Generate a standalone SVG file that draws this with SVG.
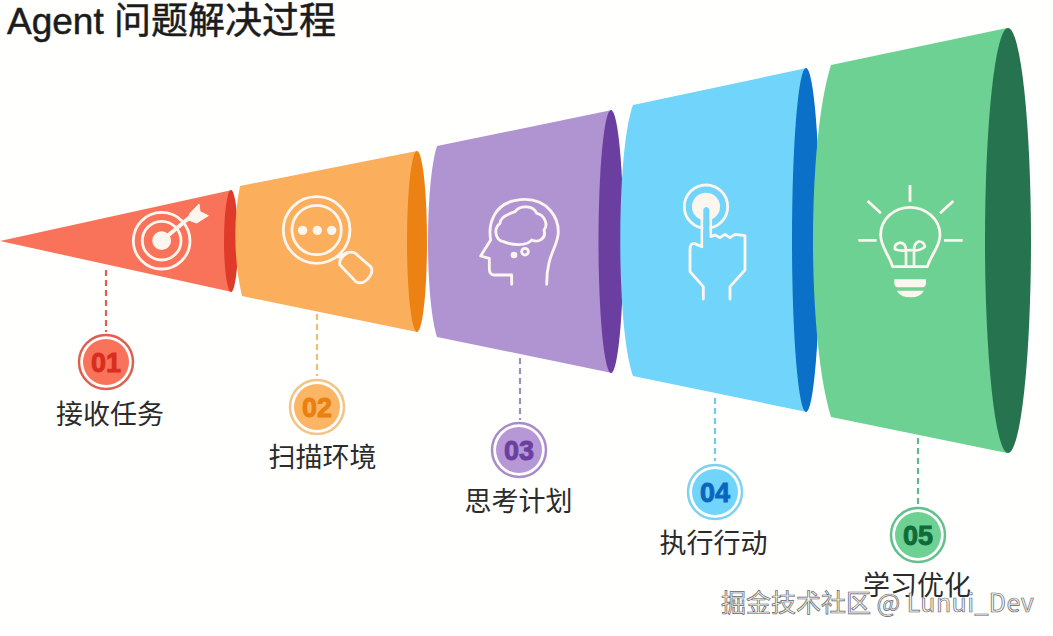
<svg xmlns="http://www.w3.org/2000/svg" width="1053" height="636" viewBox="0 0 1053 636">
<defs><style>
.t{font-family:"Liberation Sans","Noto Sans CJK SC",sans-serif;fill:#2b2b2b}
.h{fill:#1c1c1c;font-size:37px;stroke:#1c1c1c;stroke-width:.5}
.l{font-size:27px;text-anchor:middle}
.n{font-family:"Liberation Sans",Arial,sans-serif;font-weight:700;font-size:27px;text-anchor:middle;stroke-width:.9}
.i{fill:none;stroke:#fdf6ef;stroke-linecap:round;stroke-linejoin:round}
.z{stroke-width:8.500}
.d{fill:none;stroke-width:2.2;stroke-dasharray:6 4}
.r{fill:#fff;stroke-width:2.500}
</style></defs>
<rect id="background" width="1053" height="636" fill="#fffffe"/>
<text id="title" class="t h" x="7" y="34">Agent 问题解决过程</text>
<g id="connectors">
<line class="d" x1="106" y1="270" x2="106" y2="332" stroke="#e0604f"/>
<line class="d" x1="317" y1="314" x2="317" y2="376" stroke="#efbd75"/>
<line class="d" x1="520" y1="358" x2="520" y2="420" stroke="#9c90bd"/>
<line class="d" x1="715" y1="398" x2="715" y2="461" stroke="#74cbe8"/>
<line class="d" x1="918" y1="438" x2="918" y2="504" stroke="#5fb88a"/>
</g>
<g id="seg1">
<path d="M0,241 L232,190 V292 Z" fill="#f9735a"/>
<ellipse cx="231" cy="241" rx="7" ry="51" fill="#e03a2a"/>
<g transform="translate(125,195) scale(.3333)" class="i z">
<circle cx="110" cy="137" r="85"/><circle cx="110" cy="137" r="58"/>
<circle cx="110" cy="137" r="24" fill="#fdf6ef"/>
<path d="M110,137 L200,62" stroke-width="12"/>
<path d="M195,55 L222,27 L225,50 L250,62 L215,84 L190,75 Z" fill="#fdf6ef" stroke-width="3"/>
</g>
</g>
<g id="seg2">
<path d="M240,186 L417,151 V332 L242,296 C234,262 233,220 240,186 Z" fill="#fbae5c"/>
<ellipse cx="417" cy="241.5" rx="10" ry="90.5" fill="#ec8213"/>
<g transform="translate(0,170) scale(.3333)" class="i z">
<circle cx="950" cy="180" r="100"/><circle cx="950" cy="180" r="74"/>
<circle cx="908" cy="181" r="14" fill="#fdf6ef" stroke="none"/><circle cx="952" cy="181" r="14" fill="#fdf6ef" stroke="none"/><circle cx="995" cy="181" r="14" fill="#fdf6ef" stroke="none"/>
<path d="M1015,262 L1040,248"/>
<path d="M1020,285 Q1015,268 1040,250 Q1060,240 1075,258 L1112,290 Q1122,305 1105,325 Q1088,345 1068,335 Z"/>
</g>
</g>
<g id="seg3">
<path d="M437,146 L612,110 V373 L437,337 C425,300 425,183 437,146 Z" fill="#b094d2"/>
<ellipse cx="611" cy="241.5" rx="12.5" ry="131.5" fill="#6b3fa0"/>
<g transform="translate(470,190) scale(.3333)" class="i z">
<path d="M125,283 V255 H72 Q58,255 58,235 V205 L32,198 L62,150 C55,110 65,30 165,28 C235,28 265,85 265,125 C265,170 230,190 230,283"/>
<path d="M100,155 C75,150 70,115 90,100 C90,80 120,70 135,65 C150,45 190,45 200,70 C225,75 235,105 222,120 C230,145 205,160 185,150 C170,170 125,165 100,155 Z"/>
<circle cx="165" cy="185" r="10"/><circle cx="132" cy="195" r="10" fill="#fdf6ef" stroke="none"/>
</g>
</g>
<g id="seg4">
<path d="M633,105 L807,68 V412 L633,376 C616,330 616,150 633,105 Z" fill="#70d4fb"/>
<ellipse cx="806" cy="240" rx="14" ry="172" fill="#0a70c8"/>
<g transform="translate(670,175) scale(.3333)" class="i z">
<circle cx="108" cy="95" r="65"/>
<circle cx="108" cy="95" r="42" fill="#fdf6ef" stroke="none"/>
<path d="M100,372 V335 L60,290 V225 Q60,205 72,205 L96,215 V100 Q108,80 122,100 V185 L135,180 L150,188 L165,178 L180,188 L195,178 L225,182 V285 L180,335 V372" fill="none"/>
<path d="M100,215 V102 Q108,90 118,102 V195 L118,215 Z" fill="#70d4fb" stroke="none"/>
</g>
</g>
<g id="seg5">
<path d="M831,65 L1007,28 V453 L831,417 C807,340 807,140 831,65 Z" fill="#6dd193"/>
<ellipse cx="1008" cy="240.5" rx="23" ry="212.5" fill="#26734f"/>
<g transform="translate(800,20) scale(.3333)" class="i z">
<path d="M330,495 V545 M203,543 L243,580 M460,543 L420,580 M175,661 H230 M432,661 H488" stroke-linecap="butt"/>
<path d="M278,740 C265,700 242,680 242,645 C242,595 285,562 330,562 C375,562 420,595 420,645 C420,680 395,700 382,740 Z"/>
<path d="M318,740 V690 Q318,670 300,668 Q282,672 285,688 Q300,695 330,690 Q360,695 375,680 Q370,662 355,665 Q342,670 342,690 V740" fill="none" stroke-width="8"/>
<path d="M283,778 H378 V788 Q378,802 365,802 H296 Q283,802 283,788 Z" fill="#fdf6ef" stroke="none"/>
<path d="M290,812 H372 Q360,832 332,832 Q302,832 290,812 Z" fill="#fdf6ef" stroke="none"/>
</g>
</g>
<g id="badge1"><circle class="r" cx="106" cy="362" r="27" stroke="#e0604f"/><circle cx="106" cy="362" r="23" fill="#f9735a"/><text class="n" x="106" y="371.500" fill="#d92d1f" stroke="#d92d1f">01</text></g>
<g id="badge2"><circle class="r" cx="317" cy="407" r="27" stroke="#f3c486"/><circle cx="317" cy="407" r="23" fill="#fbb563"/><text class="n" x="317" y="416.500" fill="#ea7f12" stroke="#ea7f12">02</text></g>
<g id="badge3"><circle class="r" cx="519" cy="450" r="27" stroke="#a88cc8"/><circle cx="519" cy="450" r="23" fill="#b698d6"/><text class="n" x="519" y="459.500" fill="#6b3fa0" stroke="#6b3fa0">03</text></g>
<g id="badge4"><circle class="r" cx="715" cy="492" r="27" stroke="#7fd2ef"/><circle cx="715" cy="492" r="23" fill="#70d4fb"/><text class="n" x="715" y="501.500" fill="#0a66bd" stroke="#0a66bd">04</text></g>
<g id="badge5"><circle class="r" cx="918" cy="535" r="27" stroke="#63c08c"/><circle cx="918" cy="535" r="23" fill="#6dd193"/><text class="n" x="918" y="544.500" fill="#106a3a" stroke="#106a3a">05</text></g>
<text id="label1" class="t l" x="110" y="424">接收任务</text>
<text id="label2" class="t l" x="322.500" y="467">扫描环境</text>
<text id="label3" class="t l" x="518.500" y="511">思考计划</text>
<text id="label4" class="t l" x="713.500" y="553">执行行动</text>
<text id="label5" class="t l" x="917" y="595">学习优化</text>
<text id="watermark" x="721" y="612" font-size="25" fill="#f2f2f2" stroke="#666" stroke-width=".7" font-family="&quot;Noto Sans CJK SC&quot;,sans-serif">掘金技术社区 <tspan letter-spacing=".4">@ Lunui_Dev</tspan></text>
</svg>
